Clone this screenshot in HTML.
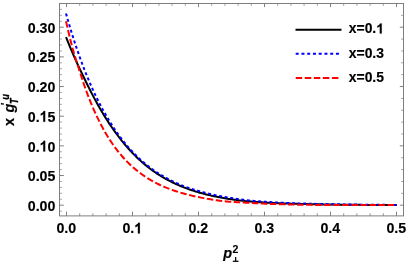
<!DOCTYPE html>
<html><head><meta charset="utf-8"><title>plot</title>
<style>
html,body{margin:0;padding:0;background:#fff;}
body{width:408px;height:265px;overflow:hidden;}
svg{display:block;will-change:transform;}
text{font-family:"Liberation Sans",sans-serif;font-weight:bold;fill:#000;}
</style></head><body>
<svg width="408" height="265" viewBox="0 0 408 265">
<rect x="0" y="0" width="408" height="265" fill="#fff"/>
<g fill="none" stroke-width="2" stroke-linejoin="round">
<path d="M66.00,37.23 L67.33,40.48 L68.66,43.70 L70.00,46.89 L71.34,50.05 L72.68,53.18 L74.03,56.28 L75.37,59.35 L76.73,62.37 L78.11,65.37 L79.50,68.32 L80.89,71.24 L82.27,74.12 L83.64,76.95 L84.98,79.75 L86.31,82.50 L87.63,85.22 L88.96,87.89 L90.28,90.52 L91.61,93.10 L92.93,95.65 L94.25,98.15 L95.58,100.60 L96.90,103.02 L98.23,105.39 L99.55,107.72 L100.87,110.01 L102.20,112.25 L103.52,114.45 L104.85,116.61 L106.17,118.73 L107.49,120.81 L108.82,122.85 L110.14,124.84 L111.47,126.80 L112.79,128.71 L114.11,130.59 L115.44,132.43 L116.76,134.23 L118.09,135.99 L119.41,137.71 L120.73,139.40 L122.05,141.05 L123.37,142.66 L124.68,144.24 L125.99,145.79 L127.30,147.30 L128.61,148.77 L129.91,150.21 L131.21,151.62 L132.52,153.00 L133.82,154.35 L135.12,155.66 L136.42,156.95 L137.73,158.20 L139.03,159.43 L140.34,160.63 L141.65,161.79 L142.96,162.94 L144.27,164.05 L145.57,165.14 L146.88,166.20 L148.18,167.23 L149.49,168.24 L150.80,169.22 L152.11,170.19 L153.42,171.12 L154.73,172.04 L156.05,172.93 L157.36,173.80 L158.68,174.64 L160.00,175.47 L161.33,176.28 L162.65,177.06 L163.98,177.83 L165.30,178.58 L166.62,179.32 L167.95,180.03 L169.27,180.73 L170.60,181.41 L171.92,182.08 L173.24,182.73 L174.57,183.36 L175.89,183.98 L177.22,184.58 L178.54,185.16 L179.86,185.73 L181.19,186.29 L182.51,186.83 L183.84,187.36 L185.16,187.87 L186.48,188.37 L187.81,188.86 L189.13,189.33 L190.46,189.79 L191.78,190.24 L193.10,190.67 L194.43,191.10 L195.75,191.51 L197.08,191.91 L198.40,192.30 L199.72,192.68 L201.05,193.05 L202.37,193.41 L203.70,193.76 L205.02,194.11 L206.34,194.44 L207.67,194.76 L208.99,195.08 L210.32,195.38 L211.64,195.68 L212.96,195.97 L214.29,196.25 L215.61,196.53 L216.94,196.79 L218.26,197.05 L219.58,197.30 L220.91,197.55 L222.23,197.79 L223.56,198.02 L224.88,198.25 L226.20,198.47 L227.53,198.68 L228.85,198.89 L230.18,199.10 L231.50,199.30 L232.82,199.49 L234.15,199.68 L235.47,199.86 L236.80,200.04 L238.12,200.21 L239.44,200.38 L240.77,200.54 L242.09,200.69 L243.42,200.84 L244.74,200.98 L246.06,201.12 L247.39,201.25 L248.71,201.38 L250.04,201.50 L251.36,201.61 L252.68,201.72 L254.01,201.83 L255.33,201.93 L256.66,202.03 L257.98,202.12 L259.30,202.20 L260.63,202.29 L261.95,202.37 L263.28,202.45 L264.60,202.52 L265.92,202.59 L267.25,202.66 L268.57,202.72 L269.90,202.79 L271.22,202.85 L272.54,202.91 L273.87,202.97 L275.19,203.02 L276.52,203.08 L277.84,203.13 L279.16,203.19 L280.49,203.24 L281.81,203.29 L283.14,203.34 L284.46,203.39 L285.78,203.44 L287.11,203.49 L288.43,203.54 L289.76,203.59 L291.08,203.63 L292.40,203.68 L293.73,203.72 L295.05,203.76 L296.38,203.80 L297.70,203.84 L299.02,203.88 L300.35,203.91 L301.67,203.95 L303.00,203.98 L304.32,204.02 L305.64,204.05 L306.97,204.08 L308.29,204.11 L309.62,204.14 L310.94,204.17 L312.26,204.20 L313.59,204.23 L314.91,204.26 L316.24,204.29 L317.56,204.31 L318.88,204.34 L320.21,204.37 L321.53,204.39 L322.86,204.42 L324.18,204.44 L325.50,204.46 L326.83,204.49 L328.15,204.51 L329.48,204.53 L330.80,204.55 L332.12,204.57 L333.45,204.59 L334.77,204.61 L336.10,204.63 L337.42,204.64 L338.74,204.66 L340.07,204.68 L341.39,204.69 L342.72,204.71 L344.04,204.72 L345.36,204.74 L346.69,204.75 L348.01,204.77 L349.34,204.78 L350.66,204.79 L351.98,204.80 L353.31,204.82 L354.63,204.83 L355.96,204.84 L357.28,204.85 L358.60,204.86 L359.93,204.87 L361.25,204.88 L362.58,204.89 L363.90,204.90 L365.22,204.91 L366.55,204.92 L367.87,204.93 L369.20,204.94 L370.52,204.94 L371.84,204.95 L373.17,204.96 L374.49,204.97 L375.82,204.98 L377.14,204.98 L378.46,204.99 L379.79,205.00 L381.11,205.00 L382.44,205.01 L383.76,205.01 L385.08,205.02 L386.41,205.03 L387.73,205.03 L389.06,205.04 L390.38,205.04 L391.70,205.05 L393.03,205.05 L394.35,205.06 L395.68,205.06 L397.00,205.06" stroke="#000"/>
<path d="M66.00,13.48 L67.32,18.18 L68.65,22.76 L69.97,27.23 L71.30,31.60 L72.62,35.87 L73.94,40.03 L75.27,44.09 L76.59,48.06 L77.92,51.93 L79.24,55.71 L80.56,59.40 L81.89,63.00 L83.21,66.51 L84.54,69.94 L85.86,73.29 L87.18,76.55 L88.51,79.74 L89.83,82.85 L91.16,85.89 L92.48,88.85 L93.80,91.74 L95.13,94.56 L96.45,97.32 L97.78,100.00 L99.10,102.62 L100.42,105.18 L101.75,107.68 L103.07,110.12 L104.40,112.51 L105.72,114.84 L107.04,117.12 L108.37,119.35 L109.69,121.52 L111.02,123.65 L112.34,125.72 L113.66,127.75 L114.99,129.72 L116.31,131.65 L117.64,133.53 L118.96,135.36 L120.28,137.15 L121.61,138.90 L122.93,140.60 L124.26,142.27 L125.58,143.90 L126.90,145.49 L128.23,147.04 L129.55,148.56 L130.88,150.03 L132.20,151.47 L133.52,152.88 L134.85,154.24 L136.17,155.57 L137.50,156.87 L138.82,158.13 L140.14,159.35 L141.47,160.54 L142.79,161.70 L144.12,162.83 L145.44,163.93 L146.76,165.01 L148.09,166.06 L149.41,167.08 L150.74,168.08 L152.06,169.05 L153.38,169.99 L154.71,170.92 L156.03,171.82 L157.36,172.69 L158.68,173.55 L160.00,174.38 L161.33,175.19 L162.65,175.98 L163.98,176.76 L165.30,177.51 L166.62,178.24 L167.95,178.95 L169.27,179.65 L170.60,180.32 L171.92,180.98 L173.24,181.62 L174.57,182.24 L175.89,182.85 L177.22,183.43 L178.54,184.01 L179.86,184.56 L181.19,185.10 L182.51,185.63 L183.84,186.14 L185.16,186.63 L186.48,187.12 L187.81,187.59 L189.13,188.04 L190.46,188.49 L191.78,188.92 L193.10,189.35 L194.43,189.76 L195.75,190.16 L197.08,190.55 L198.40,190.93 L199.72,191.31 L201.05,191.67 L202.37,192.03 L203.70,192.37 L205.02,192.71 L206.34,193.05 L207.67,193.37 L208.99,193.69 L210.32,194.00 L211.64,194.31 L212.96,194.61 L214.29,194.90 L215.61,195.18 L216.94,195.46 L218.26,195.73 L219.58,196.00 L220.91,196.25 L222.23,196.51 L223.56,196.75 L224.88,196.99 L226.20,197.23 L227.53,197.46 L228.85,197.68 L230.18,197.90 L231.50,198.11 L232.82,198.31 L234.15,198.51 L235.47,198.71 L236.80,198.90 L238.12,199.08 L239.44,199.26 L240.77,199.44 L242.09,199.61 L243.42,199.77 L244.74,199.93 L246.06,200.08 L247.39,200.23 L248.71,200.38 L250.04,200.52 L251.36,200.65 L252.68,200.78 L254.01,200.90 L255.33,201.02 L256.66,201.14 L257.98,201.25 L259.30,201.36 L260.63,201.47 L261.95,201.57 L263.28,201.66 L264.60,201.76 L265.92,201.85 L267.25,201.94 L268.57,202.02 L269.90,202.11 L271.22,202.19 L272.54,202.27 L273.87,202.34 L275.19,202.41 L276.52,202.49 L277.84,202.55 L279.16,202.62 L280.49,202.69 L281.81,202.75 L283.14,202.82 L284.46,202.88 L285.78,202.94 L287.11,203.00 L288.43,203.05 L289.76,203.11 L291.08,203.16 L292.40,203.21 L293.73,203.26 L295.05,203.30 L296.38,203.35 L297.70,203.39 L299.02,203.43 L300.35,203.47 L301.67,203.51 L303.00,203.55 L304.32,203.59 L305.64,203.62 L306.97,203.66 L308.29,203.69 L309.62,203.72 L310.94,203.75 L312.26,203.79 L313.59,203.82 L314.91,203.85 L316.24,203.88 L317.56,203.90 L318.88,203.93 L320.21,203.96 L321.53,203.99 L322.86,204.02 L324.18,204.04 L325.50,204.07 L326.83,204.10 L328.15,204.13 L329.48,204.16 L330.80,204.18 L332.12,204.21 L333.45,204.24 L334.77,204.26 L336.10,204.29 L337.42,204.31 L338.74,204.34 L340.07,204.36 L341.39,204.38 L342.72,204.41 L344.04,204.43 L345.36,204.45 L346.69,204.47 L348.01,204.49 L349.34,204.51 L350.66,204.53 L351.98,204.54 L353.31,204.56 L354.63,204.58 L355.96,204.60 L357.28,204.61 L358.60,204.63 L359.93,204.64 L361.25,204.66 L362.58,204.67 L363.90,204.69 L365.22,204.70 L366.55,204.72 L367.87,204.73 L369.20,204.74 L370.52,204.75 L371.84,204.77 L373.17,204.78 L374.49,204.79 L375.82,204.80 L377.14,204.81 L378.46,204.82 L379.79,204.83 L381.11,204.84 L382.44,204.85 L383.76,204.86 L385.08,204.87 L386.41,204.88 L387.73,204.89 L389.06,204.90 L390.38,204.91 L391.70,204.91 L393.03,204.92 L394.35,204.93 L395.68,204.94 L397.00,204.94" stroke="#0000ff" stroke-dasharray="3 2.64"/>
<path d="M66.00,21.27 L67.33,27.15 L68.67,32.84 L70.02,38.34 L71.38,43.66 L72.74,48.80 L74.16,53.77 L75.61,58.57 L77.07,63.22 L78.52,67.71 L79.92,72.06 L81.27,76.26 L82.60,80.32 L83.93,84.25 L85.26,88.05 L86.59,91.73 L87.92,95.28 L89.24,98.72 L90.57,102.05 L91.90,105.27 L93.22,108.38 L94.55,111.40 L95.88,114.32 L97.20,117.14 L98.53,119.87 L99.85,122.51 L101.17,125.07 L102.50,127.55 L103.82,129.94 L105.14,132.26 L106.47,134.51 L107.79,136.68 L109.11,138.79 L110.43,140.83 L111.75,142.80 L113.08,144.71 L114.40,146.56 L115.72,148.35 L117.04,150.09 L118.36,151.77 L119.68,153.39 L121.00,154.97 L122.32,156.50 L123.63,157.97 L124.95,159.41 L126.27,160.80 L127.59,162.14 L128.91,163.44 L130.23,164.70 L131.55,165.93 L132.86,167.11 L134.18,168.26 L135.50,169.37 L136.82,170.45 L138.13,171.50 L139.44,172.51 L140.75,173.49 L142.06,174.45 L143.37,175.37 L144.67,176.26 L145.98,177.13 L147.28,177.97 L148.58,178.79 L149.89,179.58 L151.19,180.34 L152.49,181.09 L153.79,181.81 L155.09,182.51 L156.39,183.19 L157.70,183.84 L159.00,184.48 L160.30,185.10 L161.61,185.70 L162.91,186.28 L164.21,186.85 L165.51,187.39 L166.80,187.93 L168.10,188.44 L169.40,188.94 L170.70,189.43 L172.00,189.90 L173.30,190.36 L174.61,190.80 L175.92,191.23 L177.23,191.65 L178.54,192.06 L179.86,192.45 L181.19,192.84 L182.51,193.21 L183.84,193.58 L185.16,193.94 L186.48,194.29 L187.81,194.64 L189.13,194.98 L190.46,195.31 L191.78,195.63 L193.10,195.94 L194.43,196.24 L195.75,196.54 L197.08,196.83 L198.40,197.10 L199.72,197.37 L201.05,197.64 L202.37,197.89 L203.70,198.14 L205.02,198.39 L206.34,198.63 L207.67,198.87 L208.99,199.10 L210.32,199.32 L211.64,199.54 L212.96,199.75 L214.29,199.95 L215.61,200.15 L216.94,200.34 L218.26,200.52 L219.58,200.70 L220.91,200.87 L222.23,201.03 L223.56,201.18 L224.88,201.32 L226.20,201.46 L227.53,201.58 L228.85,201.69 L230.18,201.79 L231.50,201.88 L232.82,201.96 L234.15,202.04 L235.47,202.11 L236.80,202.18 L238.12,202.25 L239.44,202.32 L240.77,202.38 L242.09,202.46 L243.42,202.53 L244.74,202.61 L246.06,202.70 L247.39,202.78 L248.71,202.86 L250.04,202.94 L251.36,203.02 L252.68,203.09 L254.01,203.16 L255.33,203.23 L256.66,203.30 L257.98,203.37 L259.30,203.43 L260.63,203.49 L261.95,203.56 L263.28,203.62 L264.60,203.67 L265.92,203.73 L267.25,203.78 L268.57,203.84 L269.90,203.89 L271.22,203.94 L272.54,203.99 L273.87,204.03 L275.19,204.08 L276.52,204.12 L277.84,204.16 L279.16,204.21 L280.49,204.24 L281.81,204.28 L283.14,204.32 L284.46,204.36 L285.78,204.39 L287.11,204.42 L288.43,204.46 L289.76,204.49 L291.08,204.52 L292.40,204.55 L293.73,204.57 L295.05,204.60 L296.38,204.63 L297.70,204.65 L299.02,204.67 L300.35,204.70 L301.67,204.72 L303.00,204.74 L304.32,204.76 L305.64,204.78 L306.97,204.80 L308.29,204.82 L309.62,204.83 L310.94,204.85 L312.26,204.87 L313.59,204.88 L314.91,204.90 L316.24,204.91 L317.56,204.92 L318.88,204.94 L320.21,204.95 L321.53,204.96 L322.86,204.97 L324.18,204.98 L325.50,204.99 L326.83,205.00 L328.15,205.01 L329.48,205.02 L330.80,205.03 L332.12,205.03 L333.45,205.04 L334.77,205.05 L336.10,205.05 L337.42,205.06 L338.74,205.06 L340.07,205.06 L341.39,205.07 L342.72,205.07 L344.04,205.07 L345.36,205.07 L346.69,205.07 L348.01,205.07 L349.34,205.07 L350.66,205.07 L351.98,205.07 L353.31,205.07 L354.63,205.07 L355.96,205.07 L357.28,205.07 L358.60,205.07 L359.93,205.07 L361.25,205.08 L362.58,205.08 L363.90,205.08 L365.22,205.08 L366.55,205.08 L367.87,205.08 L369.20,205.08 L370.52,205.08 L371.84,205.08 L373.17,205.08 L374.49,205.09 L375.82,205.09 L377.14,205.09 L378.46,205.09 L379.79,205.09 L381.11,205.09 L382.44,205.09 L383.76,205.09 L385.08,205.09 L386.41,205.09 L387.73,205.09 L389.06,205.09 L390.38,205.09 L391.70,205.09 L393.03,205.09 L394.35,205.09 L395.68,205.09 L397.00,205.10" stroke="#ff0000" stroke-dasharray="6.5 2.55"/>
</g>
<g stroke="#787878" stroke-width="0.95" fill="none">
<rect x="59.5" y="3.5" width="344.0" height="212.4"/>
<g stroke-width="0.8">
<line x1="66.50" y1="215.9" x2="66.50" y2="211.70000000000002" stroke-width="0.95"/>
<line x1="66.50" y1="3.5" x2="66.50" y2="7.1" stroke-width="0.95"/>
<line x1="79.70" y1="215.9" x2="79.70" y2="213.3" stroke-width="0.8"/>
<line x1="79.70" y1="3.5" x2="79.70" y2="6.0" stroke-width="0.65"/>
<line x1="92.90" y1="215.9" x2="92.90" y2="213.3" stroke-width="0.8"/>
<line x1="92.90" y1="3.5" x2="92.90" y2="6.0" stroke-width="0.65"/>
<line x1="106.10" y1="215.9" x2="106.10" y2="213.3" stroke-width="0.8"/>
<line x1="106.10" y1="3.5" x2="106.10" y2="6.0" stroke-width="0.65"/>
<line x1="119.30" y1="215.9" x2="119.30" y2="213.3" stroke-width="0.8"/>
<line x1="119.30" y1="3.5" x2="119.30" y2="6.0" stroke-width="0.65"/>
<line x1="132.50" y1="215.9" x2="132.50" y2="211.70000000000002" stroke-width="0.95"/>
<line x1="132.50" y1="3.5" x2="132.50" y2="7.1" stroke-width="0.95"/>
<line x1="145.70" y1="215.9" x2="145.70" y2="213.3" stroke-width="0.8"/>
<line x1="145.70" y1="3.5" x2="145.70" y2="6.0" stroke-width="0.65"/>
<line x1="158.90" y1="215.9" x2="158.90" y2="213.3" stroke-width="0.8"/>
<line x1="158.90" y1="3.5" x2="158.90" y2="6.0" stroke-width="0.65"/>
<line x1="172.10" y1="215.9" x2="172.10" y2="213.3" stroke-width="0.8"/>
<line x1="172.10" y1="3.5" x2="172.10" y2="6.0" stroke-width="0.65"/>
<line x1="185.30" y1="215.9" x2="185.30" y2="213.3" stroke-width="0.8"/>
<line x1="185.30" y1="3.5" x2="185.30" y2="6.0" stroke-width="0.65"/>
<line x1="198.50" y1="215.9" x2="198.50" y2="211.70000000000002" stroke-width="0.95"/>
<line x1="198.50" y1="3.5" x2="198.50" y2="7.1" stroke-width="0.95"/>
<line x1="211.70" y1="215.9" x2="211.70" y2="213.3" stroke-width="0.8"/>
<line x1="211.70" y1="3.5" x2="211.70" y2="6.0" stroke-width="0.65"/>
<line x1="224.90" y1="215.9" x2="224.90" y2="213.3" stroke-width="0.8"/>
<line x1="224.90" y1="3.5" x2="224.90" y2="6.0" stroke-width="0.65"/>
<line x1="238.10" y1="215.9" x2="238.10" y2="213.3" stroke-width="0.8"/>
<line x1="238.10" y1="3.5" x2="238.10" y2="6.0" stroke-width="0.65"/>
<line x1="251.30" y1="215.9" x2="251.30" y2="213.3" stroke-width="0.8"/>
<line x1="251.30" y1="3.5" x2="251.30" y2="6.0" stroke-width="0.65"/>
<line x1="264.50" y1="215.9" x2="264.50" y2="211.70000000000002" stroke-width="0.95"/>
<line x1="264.50" y1="3.5" x2="264.50" y2="7.1" stroke-width="0.95"/>
<line x1="277.70" y1="215.9" x2="277.70" y2="213.3" stroke-width="0.8"/>
<line x1="277.70" y1="3.5" x2="277.70" y2="6.0" stroke-width="0.65"/>
<line x1="290.90" y1="215.9" x2="290.90" y2="213.3" stroke-width="0.8"/>
<line x1="290.90" y1="3.5" x2="290.90" y2="6.0" stroke-width="0.65"/>
<line x1="304.10" y1="215.9" x2="304.10" y2="213.3" stroke-width="0.8"/>
<line x1="304.10" y1="3.5" x2="304.10" y2="6.0" stroke-width="0.65"/>
<line x1="317.30" y1="215.9" x2="317.30" y2="213.3" stroke-width="0.8"/>
<line x1="317.30" y1="3.5" x2="317.30" y2="6.0" stroke-width="0.65"/>
<line x1="330.50" y1="215.9" x2="330.50" y2="211.70000000000002" stroke-width="0.95"/>
<line x1="330.50" y1="3.5" x2="330.50" y2="7.1" stroke-width="0.95"/>
<line x1="343.70" y1="215.9" x2="343.70" y2="213.3" stroke-width="0.8"/>
<line x1="343.70" y1="3.5" x2="343.70" y2="6.0" stroke-width="0.65"/>
<line x1="356.90" y1="215.9" x2="356.90" y2="213.3" stroke-width="0.8"/>
<line x1="356.90" y1="3.5" x2="356.90" y2="6.0" stroke-width="0.65"/>
<line x1="370.10" y1="215.9" x2="370.10" y2="213.3" stroke-width="0.8"/>
<line x1="370.10" y1="3.5" x2="370.10" y2="6.0" stroke-width="0.65"/>
<line x1="383.30" y1="215.9" x2="383.30" y2="213.3" stroke-width="0.8"/>
<line x1="383.30" y1="3.5" x2="383.30" y2="6.0" stroke-width="0.65"/>
<line x1="396.50" y1="215.9" x2="396.50" y2="211.70000000000002" stroke-width="0.95"/>
<line x1="396.50" y1="3.5" x2="396.50" y2="7.1" stroke-width="0.95"/>
<line x1="59.5" y1="211.13" x2="62.0" y2="211.13" stroke-width="0.65"/>
<line x1="59.5" y1="205.20" x2="63.8" y2="205.20" stroke-width="0.95"/>
<line x1="59.5" y1="199.27" x2="62.0" y2="199.27" stroke-width="0.65"/>
<line x1="59.5" y1="193.33" x2="62.0" y2="193.33" stroke-width="0.65"/>
<line x1="59.5" y1="187.40" x2="62.0" y2="187.40" stroke-width="0.65"/>
<line x1="59.5" y1="181.47" x2="62.0" y2="181.47" stroke-width="0.65"/>
<line x1="59.5" y1="175.53" x2="63.8" y2="175.53" stroke-width="0.95"/>
<line x1="59.5" y1="169.60" x2="62.0" y2="169.60" stroke-width="0.65"/>
<line x1="59.5" y1="163.67" x2="62.0" y2="163.67" stroke-width="0.65"/>
<line x1="59.5" y1="157.74" x2="62.0" y2="157.74" stroke-width="0.65"/>
<line x1="59.5" y1="151.80" x2="62.0" y2="151.80" stroke-width="0.65"/>
<line x1="59.5" y1="145.87" x2="63.8" y2="145.87" stroke-width="0.95"/>
<line x1="59.5" y1="139.94" x2="62.0" y2="139.94" stroke-width="0.65"/>
<line x1="59.5" y1="134.00" x2="62.0" y2="134.00" stroke-width="0.65"/>
<line x1="59.5" y1="128.07" x2="62.0" y2="128.07" stroke-width="0.65"/>
<line x1="59.5" y1="122.14" x2="62.0" y2="122.14" stroke-width="0.65"/>
<line x1="59.5" y1="116.20" x2="63.8" y2="116.20" stroke-width="0.95"/>
<line x1="59.5" y1="110.27" x2="62.0" y2="110.27" stroke-width="0.65"/>
<line x1="59.5" y1="104.34" x2="62.0" y2="104.34" stroke-width="0.65"/>
<line x1="59.5" y1="98.41" x2="62.0" y2="98.41" stroke-width="0.65"/>
<line x1="59.5" y1="92.47" x2="62.0" y2="92.47" stroke-width="0.65"/>
<line x1="59.5" y1="86.54" x2="63.8" y2="86.54" stroke-width="0.95"/>
<line x1="59.5" y1="80.61" x2="62.0" y2="80.61" stroke-width="0.65"/>
<line x1="59.5" y1="74.67" x2="62.0" y2="74.67" stroke-width="0.65"/>
<line x1="59.5" y1="68.74" x2="62.0" y2="68.74" stroke-width="0.65"/>
<line x1="59.5" y1="62.81" x2="62.0" y2="62.81" stroke-width="0.65"/>
<line x1="59.5" y1="56.88" x2="63.8" y2="56.88" stroke-width="0.95"/>
<line x1="59.5" y1="50.94" x2="62.0" y2="50.94" stroke-width="0.65"/>
<line x1="59.5" y1="45.01" x2="62.0" y2="45.01" stroke-width="0.65"/>
<line x1="59.5" y1="39.08" x2="62.0" y2="39.08" stroke-width="0.65"/>
<line x1="59.5" y1="33.14" x2="62.0" y2="33.14" stroke-width="0.65"/>
<line x1="59.5" y1="27.21" x2="63.8" y2="27.21" stroke-width="0.95"/>
<line x1="59.5" y1="21.28" x2="62.0" y2="21.28" stroke-width="0.65"/>
<line x1="59.5" y1="15.34" x2="62.0" y2="15.34" stroke-width="0.65"/>
<line x1="59.5" y1="9.41" x2="62.0" y2="9.41" stroke-width="0.65"/>
<line x1="403.5" y1="205.20" x2="399.8" y2="205.20" stroke-width="0.95"/>
<line x1="403.5" y1="193.33" x2="401.0" y2="193.33" stroke-width="0.65"/>
<line x1="403.5" y1="181.47" x2="401.0" y2="181.47" stroke-width="0.65"/>
<line x1="403.5" y1="169.60" x2="401.0" y2="169.60" stroke-width="0.65"/>
<line x1="403.5" y1="157.74" x2="401.0" y2="157.74" stroke-width="0.65"/>
<line x1="403.5" y1="145.87" x2="399.8" y2="145.87" stroke-width="0.95"/>
<line x1="403.5" y1="134.00" x2="401.0" y2="134.00" stroke-width="0.65"/>
<line x1="403.5" y1="122.14" x2="401.0" y2="122.14" stroke-width="0.65"/>
<line x1="403.5" y1="110.27" x2="401.0" y2="110.27" stroke-width="0.65"/>
<line x1="403.5" y1="98.41" x2="401.0" y2="98.41" stroke-width="0.65"/>
<line x1="403.5" y1="86.54" x2="399.8" y2="86.54" stroke-width="0.95"/>
<line x1="403.5" y1="74.67" x2="401.0" y2="74.67" stroke-width="0.65"/>
<line x1="403.5" y1="62.81" x2="401.0" y2="62.81" stroke-width="0.65"/>
<line x1="403.5" y1="50.94" x2="401.0" y2="50.94" stroke-width="0.65"/>
<line x1="403.5" y1="39.08" x2="401.0" y2="39.08" stroke-width="0.65"/>
<line x1="403.5" y1="27.21" x2="399.8" y2="27.21" stroke-width="0.95"/>
<line x1="403.5" y1="15.34" x2="401.0" y2="15.34" stroke-width="0.65"/>
</g>
</g>
<g>
<text transform="translate(55.40,211.00) scale(1.0,1.05)" font-size="14.2px" text-anchor="end" stroke="#000" stroke-width="0.15">0.00</text>
<text transform="translate(55.40,181.26) scale(1.0,1.05)" font-size="14.2px" text-anchor="end" stroke="#000" stroke-width="0.15">0.05</text>
<g transform="translate(55.40,151.52) scale(1.0,1.05)" stroke="#000" stroke-width="0.15"><text x="-27.63" y="0" font-size="14.2px">0.</text><path transform="translate(-15.79,0) scale(0.01420)" d="M393 0H256V-519Q181 -449 79 -415V-540Q133 -558 196 -607Q259 -656 282 -721H393Z" fill="#000" stroke="#000" stroke-width="10.6"/><text x="-7.90" y="0" font-size="14.2px">0</text></g>
<g transform="translate(55.40,121.78) scale(1.0,1.05)" stroke="#000" stroke-width="0.15"><text x="-27.63" y="0" font-size="14.2px">0.</text><path transform="translate(-15.79,0) scale(0.01420)" d="M393 0H256V-519Q181 -449 79 -415V-540Q133 -558 196 -607Q259 -656 282 -721H393Z" fill="#000" stroke="#000" stroke-width="10.6"/><text x="-7.90" y="0" font-size="14.2px">5</text></g>
<text transform="translate(55.40,92.04) scale(1.0,1.05)" font-size="14.2px" text-anchor="end" stroke="#000" stroke-width="0.15">0.20</text>
<text transform="translate(55.40,62.30) scale(1.0,1.05)" font-size="14.2px" text-anchor="end" stroke="#000" stroke-width="0.15">0.25</text>
<text transform="translate(55.40,32.56) scale(1.0,1.05)" font-size="14.2px" text-anchor="end" stroke="#000" stroke-width="0.15">0.30</text>
<text transform="translate(66.30,233.40) scale(1.0,1.05)" font-size="14.2px" text-anchor="middle" stroke="#000" stroke-width="0.15">0.0</text>
<g transform="translate(132.30,233.40) scale(1.0,1.05)" stroke="#000" stroke-width="0.15"><text x="-9.87" y="0" font-size="14.2px">0.</text><path transform="translate(1.97,0) scale(0.01420)" d="M393 0H256V-519Q181 -449 79 -415V-540Q133 -558 196 -607Q259 -656 282 -721H393Z" fill="#000" stroke="#000" stroke-width="10.6"/></g>
<text transform="translate(198.30,233.40) scale(1.0,1.05)" font-size="14.2px" text-anchor="middle" stroke="#000" stroke-width="0.15">0.2</text>
<text transform="translate(264.30,233.40) scale(1.0,1.05)" font-size="14.2px" text-anchor="middle" stroke="#000" stroke-width="0.15">0.3</text>
<text transform="translate(330.30,233.40) scale(1.0,1.05)" font-size="14.2px" text-anchor="middle" stroke="#000" stroke-width="0.15">0.4</text>
<text transform="translate(396.30,233.40) scale(1.0,1.05)" font-size="14.2px" text-anchor="middle" stroke="#000" stroke-width="0.15">0.5</text>
</g>
<!-- legend -->
<g fill="none" stroke-width="2">
<line x1="295.5" y1="29.7" x2="341.5" y2="29.7" stroke="#000"/>
<line x1="295.7" y1="53.8" x2="339" y2="53.8" stroke="#0000ff" stroke-dasharray="3 2.75"/>
<line x1="295.7" y1="77.9" x2="338.8" y2="77.9" stroke="#ff0000" stroke-dasharray="6.5 2.55"/>
</g>
<g>
<g transform="translate(348.80,33.40) scale(1.0,1.0)" stroke="#000" stroke-width="0.15"><text x="0.00" y="0" font-size="13.9px">x=0.</text><path transform="translate(27.44,0) scale(0.01390)" d="M393 0H256V-519Q181 -449 79 -415V-540Q133 -558 196 -607Q259 -656 282 -721H393Z" fill="#000" stroke="#000" stroke-width="10.8"/></g>
<text transform="translate(348.80,57.70) scale(1.0,1.0)" font-size="13.9px" text-anchor="start" stroke="#000" stroke-width="0.15">x=0.3</text>
<text transform="translate(348.80,81.80) scale(1.0,1.0)" font-size="13.9px" text-anchor="start" stroke="#000" stroke-width="0.15">x=0.5</text>
</g>
<!-- x label -->
<g>
<text transform="translate(223.30,258.30) scale(1.0,1.0)" font-size="14.5px" text-anchor="start" font-style="italic" stroke="#000" stroke-width="0.15">p</text>
<text transform="translate(232.60,253.20) scale(1.0,1.06)" font-size="10.5px" text-anchor="start" stroke="#000" stroke-width="0.15">2</text>
<g stroke="#000" stroke-width="1.25" fill="none"><line x1="232.8" y1="261.3" x2="238.5" y2="261.3"/><line x1="235.65" y1="261.3" x2="235.65" y2="257.0"/></g>
</g>
<!-- y label -->
<g transform="translate(14.2,126) rotate(-90)">
<text transform="translate(0.00,0.00) scale(1.0,1.0)" font-size="14.5px" text-anchor="start" stroke="#000" stroke-width="0.15">x</text>
<text transform="translate(13.50,0.00) scale(1.0,1.0)" font-size="14.5px" text-anchor="start" font-style="italic" stroke="#000" stroke-width="0.15">g</text>
<text transform="translate(21.90,3.80) scale(0.88,1.0)" font-size="10.3px" text-anchor="start" font-style="italic" stroke="#000" stroke-width="0.4">T</text>
<text transform="translate(20.20,-5.10) scale(1.0,1.0)" font-size="10.5px" text-anchor="start" font-style="italic" stroke="#000" stroke-width="0.15">'</text>
<text transform="translate(26.30,-5.10) scale(0.9,1.0)" font-size="10.5px" text-anchor="start" font-style="italic" stroke="#000" stroke-width="0.35">u</text>
</g>
</svg>
</body></html>
